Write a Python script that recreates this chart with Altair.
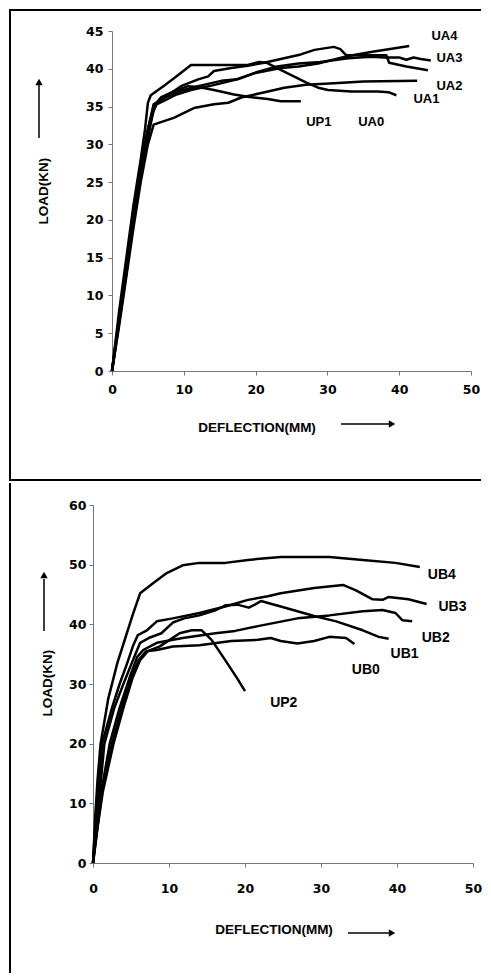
import altair as alt
import pandas as pd

# ---------------- top panel: load vs deflection (UA / UP1 beams) ----------------
UA4_X = [0, 1, 2, 3, 4, 5, 5.8, 6.4, 7.8, 9.6, 12, 15.2, 17.5, 19.8, 23.5, 26, 28.7, 32.9, 36.5, 41.4]
UA4_Y = [0, 6.5, 13, 20, 26, 31, 34.5, 35.7, 36.4, 37.1, 37.7, 38.4, 38.6, 39.4, 40.1, 40.3, 40.7, 41.7, 42.3, 43.0]

UA3_X = [0, 1, 2, 3, 4, 5, 5.6, 6.2, 7.5, 9, 11, 14, 17, 20, 23, 26, 29, 32.9, 36, 38, 40, 41, 42, 43, 44.4]
UA3_Y = [0, 6.5, 13, 20, 26, 31, 34, 35.3, 35.9, 36.6, 37.2, 37.8, 38.5, 39.5, 40.3, 40.7, 40.9, 41.4, 41.6, 41.5, 41.5, 41.2, 41.5, 41.3, 41.1]

UA0_X = [0, 1, 2, 3, 4, 5, 5.8, 7.3, 9.6, 12, 13.4, 14.2, 16.6, 18.9, 21.2, 23.5, 26.3, 28.2, 30.9, 31.8, 32.6, 35, 38.2, 38.6, 41, 44.0]
UA0_Y = [0, 7, 14, 21, 27, 32, 35.3, 36.2, 37.7, 38.6, 39.0, 39.7, 40.1, 40.4, 40.8, 41.3, 41.9, 42.5, 42.9, 42.6, 41.8, 41.8, 41.8, 40.8, 40.3, 39.8]

UA1_X = [0, 1, 2, 3, 4, 4.6, 5.0, 5.4, 7.3, 9, 11, 15, 18.9, 20.5, 21.5, 23, 24.9, 27, 28.7, 30.1, 33.3, 37, 38.5, 39.6]
UA1_Y = [0, 8, 15, 22, 28, 32, 35.5, 36.5, 37.8, 39, 40.5, 40.5, 40.5, 40.9, 40.8, 40.1, 39.2, 38.2, 37.5, 37.2, 37.0, 37.0, 36.9, 36.5]

UA2_X = [0, 1, 2, 3, 4, 5, 5.8, 6.4, 8.6, 11.4, 14.2, 16.2, 18, 20.8, 24, 27, 30.9, 35, 42.5]
UA2_Y = [0, 6, 12.5, 19, 25, 30, 32.6, 32.8, 33.5, 34.8, 35.3, 35.5, 36.2, 36.8, 37.5, 37.9, 38.1, 38.3, 38.4]

UP1_X = [0, 1, 2, 3, 4, 5, 5.8, 6.8, 8.6, 10.6, 12, 14.2, 17, 18.9, 21.7, 23.5, 26.3]
UP1_Y = [0, 7, 14, 21, 27, 32, 35, 36.2, 37.0, 37.7, 37.6, 37.2, 36.6, 36.3, 36.0, 35.7, 35.7]

TOP_LABELS = ["UA4", "UA3", "UA2", "UA1", "UP1", "UA0"]
TOP_LABEL_X = [46.3, 47.0, 47.0, 43.8, 28.8, 36.1]
TOP_LABEL_Y = [44.3, 41.4, 37.7, 36.0, 33.0, 33.0]

# ---------------- bottom panel: load vs deflection (UB / UP2 beams) ----------------
UB4_X = [0, 0.3, 0.6, 1.0, 2, 3.2, 4.2, 5.2, 6.2, 7.9, 9.7, 11.8, 14, 17.4, 20.4, 24.7, 31.1, 35.5, 39.8, 43]
UB4_Y = [0, 8, 14, 20, 27.5, 33.5, 37.5, 41.5, 45.2, 46.9, 48.6, 49.9, 50.3, 50.3, 50.8, 51.3, 51.3, 50.8, 50.3, 49.6]

UB3_X = [0, 0.3, 0.7, 1.2, 2.5, 3.5, 4.5, 5.3, 5.9, 7.1, 8.4, 10.5, 14, 17.4, 20.4, 23, 24.7, 29.1, 32.9, 34.6, 36.8, 38.1, 38.9, 41.5, 43.9]
UB3_Y = [0, 6, 12, 20, 26, 30, 33.5, 36.5, 38.2, 39.0, 40.5, 41.0, 41.9, 43.0, 44.1, 44.7, 45.2, 46.1, 46.6, 45.7, 44.2, 44.1, 44.6, 44.2, 43.4]

UB1_X = [0, 0.4, 0.9, 1.5, 2.8, 4, 5.1, 6.2, 7.5, 9, 10.5, 12, 14, 16, 17.5, 19, 20.5, 21.3, 22.1, 24.7, 29.1, 32, 35.5, 37.6, 38.9]
UB1_Y = [0, 6, 12, 20, 26, 30, 33.5, 36.9, 37.8, 38.5, 40.3, 41.0, 41.5, 42.3, 43.2, 43.3, 42.8, 43.3, 43.9, 43.0, 41.4, 40.5, 39.0, 37.9, 37.6]

UB2_X = [0, 0.5, 1.1, 2.2, 3.5, 4.8, 5.8, 6.6, 8.4, 11.8, 16.1, 18.7, 21.7, 26.9, 31.1, 35.5, 38.1, 39.8, 40.7, 42.0]
UB2_Y = [0, 6, 12, 20, 26, 31, 34.5, 35.7, 36.9, 37.7, 38.5, 38.9, 39.7, 41.0, 41.5, 42.2, 42.4, 41.9, 40.7, 40.5]

UB0_X = [0, 0.5, 1.2, 2.5, 3.8, 5, 6, 7, 8.4, 10.5, 14, 18.2, 21.7, 23.4, 24.7, 26.9, 29.1, 31.1, 33.3, 34.4]
UB0_Y = [0, 5, 12, 20, 26, 31, 34, 35.5, 35.7, 36.3, 36.5, 37.2, 37.4, 37.7, 37.2, 36.8, 37.2, 37.9, 37.7, 36.7]

UP2_X = [0, 0.6, 1.3, 2.7, 4, 5.2, 6.2, 7.2, 8.8, 11.4, 13, 14.3, 15.6, 17.4, 19.1, 20.0]
UP2_Y = [0, 6, 12, 20, 26, 31, 34, 35.5, 36.3, 38.5, 39.0, 39.0, 37.4, 34.0, 30.7, 28.8]

BOT_LABELS = ["UB4", "UB3", "UB2", "UB1", "UB0", "UP2"]
BOT_LABEL_X = [45.9, 47.3, 45.1, 41.0, 35.9, 25.1]
BOT_LABEL_Y = [48.2, 42.9, 37.7, 35.0, 32.3, 26.8]

X_TICKS = [0, 10, 20, 30, 40, 50]
TOP_Y_TICKS = [0, 5, 10, 15, 20, 25, 30, 35, 40, 45]
BOT_Y_TICKS = [0, 10, 20, 30, 40, 50, 60]

TITLE_FONT = "Liberation Sans"
TICK_FONT = "DejaVu Sans"


def long_df(series):
    rows = []
    for name, (xs, ys) in series.items():
        for i, (x, y) in enumerate(zip(xs, ys)):
            rows.append({"series": name, "x": x, "y": y, "i": i})
    return pd.DataFrame(rows)


top_df = long_df({
    "UA4": (UA4_X, UA4_Y), "UA3": (UA3_X, UA3_Y), "UA0": (UA0_X, UA0_Y),
    "UA1": (UA1_X, UA1_Y), "UA2": (UA2_X, UA2_Y), "UP1": (UP1_X, UP1_Y),
})
bot_df = long_df({
    "UB4": (UB4_X, UB4_Y), "UB3": (UB3_X, UB3_Y), "UB1": (UB1_X, UB1_Y),
    "UB2": (UB2_X, UB2_Y), "UB0": (UB0_X, UB0_Y), "UP2": (UP2_X, UP2_Y),
})
top_lab = pd.DataFrame({"label": TOP_LABELS, "x": TOP_LABEL_X, "y": TOP_LABEL_Y})
bot_lab = pd.DataFrame({"label": BOT_LABELS, "x": BOT_LABEL_X, "y": BOT_LABEL_Y})

ONE = alt.Data(values=[{}])


def panel(df, lab, x_scale, y_scale, x_axis, y_axis, w, h, deco, label_size):
    lines = alt.Chart(df).mark_line(color="black", strokeWidth=2.5, strokeJoin="round").encode(
        x=alt.X("x:Q", scale=x_scale, axis=x_axis),
        y=alt.Y("y:Q", scale=y_scale, axis=y_axis),
        detail="series:N",
        order="i:Q",
    )
    labels = alt.Chart(lab).mark_text(
        font=TITLE_FONT, fontWeight="bold", fontSize=label_size, color="black"
    ).encode(
        x=alt.X("x:Q", scale=x_scale, axis=x_axis),
        y=alt.Y("y:Q", scale=y_scale, axis=y_axis),
        text="label:N",
    )
    return alt.layer(lines, labels, *deco).properties(width=w, height=h)


def hrule(x1, x2, y, sw=2, color="black"):
    return alt.Chart(ONE).mark_rule(color=color, strokeWidth=sw).encode(
        x=alt.value(x1), x2=alt.value(x2), y=alt.value(y))


def vrule(x, y1, y2, sw=2, color="black"):
    return alt.Chart(ONE).mark_rule(color=color, strokeWidth=sw).encode(
        x=alt.value(x), y=alt.value(y1), y2=alt.value(y2))


def head(x, y, shape):
    return alt.Chart(ONE).mark_point(shape=shape, filled=True, color="black", size=55, opacity=1).encode(
        x=alt.value(x), y=alt.value(y))


def label_text(txt, x, y, angle=0):
    return alt.Chart(ONE).mark_text(
        text=txt, font=TITLE_FONT, fontWeight="bold", fontSize=13.5, color="black",
        angle=angle, align="center", baseline="middle"
    ).encode(x=alt.value(x), y=alt.value(y))


W = 380
axis_common = dict(
    labelFont=TICK_FONT, labelFontSize=12.5, labelFontWeight="bold", labelColor="black",
    domainColor="#777", tickColor="#777", tickSize=4, grid=False, title=None,
    labelFlush=False, labelOverlap=False,
)

# ---- top panel ----
top_x_scale = alt.Scale(domain=[0, 50], range=[19, 378], nice=False, zero=False)
top_y_scale = alt.Scale(domain=[0, 45], nice=False, zero=False)
top_x_axis = alt.Axis(values=X_TICKS, labelPadding=8, **axis_common)
top_y_axis = alt.Axis(values=TOP_Y_TICKS, offset=-19, labelPadding=5, **axis_common)

top_deco = [
    hrule(-84, 388, -21),
    vrule(-83, -22, 450),
    hrule(-84, 388, 449),
    label_text("LOAD(KN)", -49, 160, angle=270),
    vrule(-54, 54, 107, sw=1.5),
    head(-54, 51, "triangle-up"),
    label_text("DEFLECTION(MM)", 164, 397),
    hrule(248, 296, 393, sw=1.5),
    head(299, 393, "triangle-right"),
]
top = panel(top_df, top_lab, top_x_scale, top_y_scale, top_x_axis, top_y_axis, W, 340, top_deco, 13)

# ---- bottom panel ----
bot_x_scale = alt.Scale(domain=[0, 50], nice=False, zero=False)
bot_y_scale = alt.Scale(domain=[0, 60], nice=False, zero=False)
bot_x_axis = alt.Axis(values=X_TICKS, labelPadding=15, **axis_common)
bot_y_axis = alt.Axis(values=BOT_Y_TICKS, labelPadding=3, **axis_common)

bot_deco = [
    vrule(-83, -22, 468),
    label_text("LOAD(KN)", -45, 178, angle=270),
    vrule(-49, 74, 126, sw=1.5),
    head(-49, 70, "triangle-up"),
    label_text("DEFLECTION(MM)", 181, 425),
    hrule(255, 296, 428, sw=1.5),
    head(299, 428, "triangle-right"),
]
bottom = panel(bot_df, bot_lab, bot_x_scale, bot_y_scale, bot_x_axis, bot_y_axis, W, 358, bot_deco, 14)

chart = alt.vconcat(top, bottom, spacing=0).properties(
    padding=0, background="white"
).configure_view(strokeWidth=0)

chart.save("out.html", embed_options={"renderer": "svg", "actions": False})
